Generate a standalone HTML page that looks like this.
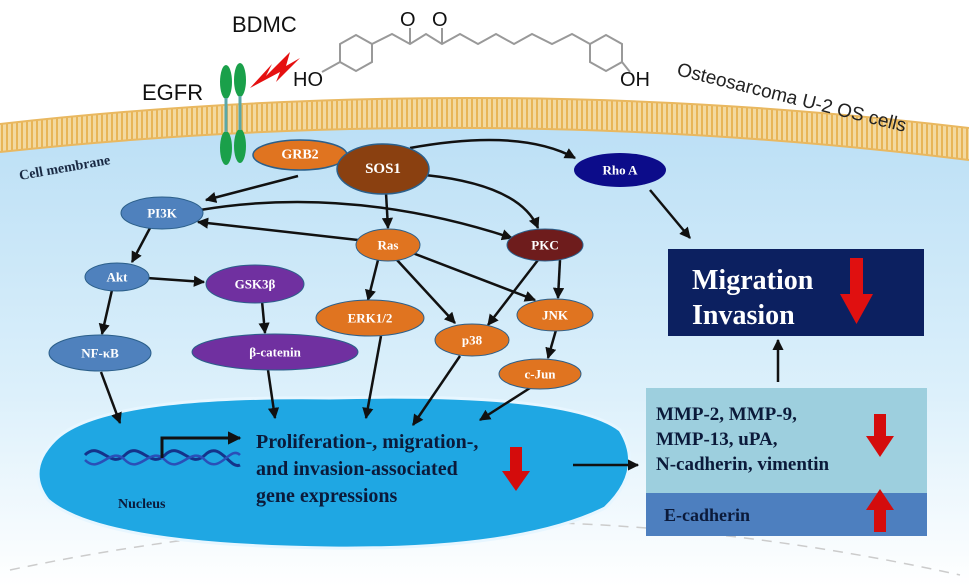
<!DOCTYPE html>
<html><head><meta charset="utf-8"><style>
html,body{margin:0;padding:0;background:#fff;}
svg{display:block;}
.n{font-family:"Liberation Serif",serif;font-weight:bold;fill:#fff;text-anchor:middle;dominant-baseline:central;}
.b{font-family:"Liberation Serif",serif;font-weight:bold;fill:#0b1a3a;}
</style></head><body>
<svg width="969" height="587" viewBox="0 0 969 587" xmlns="http://www.w3.org/2000/svg">
<defs>
<linearGradient id="cell" x1="0" y1="0" x2="0" y2="1">
<stop offset="0" stop-color="#b9def5"/><stop offset="0.6" stop-color="#dcf0fb"/><stop offset="1" stop-color="#ffffff"/>
</linearGradient>
<pattern id="mem" width="5" height="30" patternUnits="userSpaceOnUse">
<rect width="5" height="30" fill="#f3d9a0"/><rect x="1" width="2" height="30" fill="#e8b557"/>
</pattern>
<marker id="ar" viewBox="0 0 10 10" refX="9" refY="5" markerWidth="4.5" markerHeight="4.5" orient="auto"><path d="M0,0L10,5L0,10z" fill="#111"/></marker>
</defs>
<path d="M0,142 Q484,62 969,150 L969,587 L0,587 Z" fill="url(#cell)"/>
<path d="M10,570 Q484,470 960,575" fill="none" stroke="#ccc" stroke-width="1.5" stroke-dasharray="10,8"/>
<path d="M0,124 Q484,70 969,128 L969,160 Q484,100 0,152 Z" fill="url(#mem)"/>
<path d="M0,124 Q484,70 969,128" fill="none" stroke="#e9b860" stroke-width="2"/>
<path d="M0,152 Q484,100 969,160" fill="none" stroke="#e9b860" stroke-width="2"/>
<text x="232" y="32" font-family="Liberation Sans,sans-serif" font-size="22" fill="#111">BDMC</text>
<text x="142" y="100" font-family="Liberation Sans,sans-serif" font-size="22" fill="#111">EGFR</text>
<text x="676" y="75" font-family="Liberation Sans,sans-serif" font-size="19" fill="#222" transform="rotate(14 676 75)">Osteosarcoma U-2 OS cells</text>
<text x="20" y="180" font-family="Liberation Serif,serif" font-weight="bold" font-size="14" fill="#1a2a44" transform="rotate(-10 20 180)">Cell membrane</text>
<g fill="none" stroke="#999" stroke-width="2">
<path d="M340,44 L356,35 L372,44 L372,62 L356,71 L340,62 Z"/>
<path d="M372,44 L392,34 L410,44 L426,34 L442,44 L460,34 L478,44 L496,34 L514,44 L532,34 L552,44 L572,34 L590,44"/>
<path d="M410,44 L410,28 M442,44 L442,28"/>
<path d="M590,44 L606,35 L622,44 L622,62 L606,71 L590,62 Z"/>
<path d="M340,62 L322,72 M622,62 L630,72"/>
</g>
<text x="400" y="26" font-family="Liberation Sans,sans-serif" font-size="20" fill="#111">O</text>
<text x="432" y="26" font-family="Liberation Sans,sans-serif" font-size="20" fill="#111">O</text>
<text x="293" y="86" font-family="Liberation Sans,sans-serif" font-size="20" fill="#111">HO</text>
<text x="620" y="86" font-family="Liberation Sans,sans-serif" font-size="20" fill="#111">OH</text>
<path d="M250,88 L272,64 L266,76 L290,52 L286,66 L300,58 L276,82 L280,72 Z" fill="#e51010"/>
<g fill="#1aa04a"><ellipse cx="226" cy="82" rx="6" ry="17"/><ellipse cx="240" cy="80" rx="6" ry="17"/><ellipse cx="226" cy="148" rx="6" ry="17"/><ellipse cx="240" cy="146" rx="6" ry="17"/></g>
<path d="M226,98 L226,132 M240,96 L240,130" stroke="#5aa8a8" stroke-width="3"/>
<path d="M55,440 Q100,395 330,398 Q570,392 620,430 Q645,470 605,508 Q520,550 330,548 Q100,545 48,500 Q25,470 55,440 Z" fill="#1fa7e3" stroke="#e7f6ff" stroke-width="3"/>
<path d="M85,455 C100,440 110,470 125,455 C140,440 150,470 165,455 C180,440 190,470 205,455 C220,440 230,470 240,465" fill="none" stroke="#14338a" stroke-width="3"/>
<path d="M85,460 C100,475 110,445 125,460 C140,475 150,445 165,460 C180,475 190,445 205,460 C220,475 230,445 240,455" fill="none" stroke="#2a4fb8" stroke-width="2.5"/>
<path d="M162,458 L162,438 L240,438" fill="none" stroke="#111" stroke-width="3" marker-end="url(#ar)"/>
<text x="118" y="508" class="b" font-size="14">Nucleus</text>
<text class="b" font-size="20"><tspan x="256" y="448">Proliferation-, migration-,</tspan><tspan x="256" y="475">and invasion-associated</tspan><tspan x="256" y="502">gene expressions</tspan></text>
<path d="M510,447 h12 v24 h8 l-14,20 l-14,-20 h8 z" fill="#d40c0c"/>
<g stroke="#111" stroke-width="2.5" fill="none" marker-end="url(#ar)">
<path d="M298,176 L206,200"/>
<path d="M410,148 Q520,128 575,158"/>
<path d="M425,175 Q520,185 538,228"/>
<path d="M386,193 L388,228"/>
<path d="M200,210 Q350,185 512,238"/>
<path d="M358,240 L198,222"/>
<path d="M150,228 L132,262"/>
<path d="M147,278 L204,282"/>
<path d="M112,290 L102,334"/>
<path d="M262,301 L265,333"/>
<path d="M378,260 L368,300"/>
<path d="M397,260 L455,323"/>
<path d="M410,252 L535,300"/>
<path d="M538,260 L488,325"/>
<path d="M560,260 L558,298"/>
<path d="M556,330 L548,358"/>
<path d="M650,190 L690,238"/>
<path d="M101,372 L120,423"/>
<path d="M268,370 L275,418"/>
<path d="M381,336 L366,418"/>
<path d="M460,356 L413,425"/>
<path d="M530,388 L480,420"/>
<path d="M573,465 L638,465"/>
<path d="M778,382 L778,340"/>
</g>
<ellipse cx="300" cy="155" rx="47" ry="15" fill="#e07420" stroke="#2b5f8a" stroke-width="1.5"/><text x="300" y="155" class="n" font-size="14">GRB2</text>
<ellipse cx="383" cy="169" rx="46" ry="25" fill="#8a4010" stroke="#2b5f8a" stroke-width="1.5"/><text x="383" y="169" class="n" font-size="15">SOS1</text>
<ellipse cx="620" cy="170" rx="46" ry="17" fill="#0c0c8a"/><text x="620" y="170" class="n" font-size="13">Rho A</text>
<ellipse cx="162" cy="213" rx="41" ry="16" fill="#4f81bd" stroke="#2b5f8a"/><text x="162" y="213" class="n" font-size="13">PI3K</text>
<ellipse cx="388" cy="245" rx="32" ry="16" fill="#e07420" stroke="#2b5f8a"/><text x="388" y="245" class="n" font-size="13">Ras</text>
<ellipse cx="545" cy="245" rx="38" ry="16" fill="#6e1c1c" stroke="#2b5f8a"/><text x="545" y="245" class="n" font-size="13">PKC</text>
<ellipse cx="117" cy="277" rx="32" ry="14" fill="#4f81bd" stroke="#2b5f8a"/><text x="117" y="277" class="n" font-size="13">Akt</text>
<ellipse cx="255" cy="284" rx="49" ry="19" fill="#7030a0" stroke="#2b5f8a"/><text x="255" y="284" class="n" font-size="13">GSK3β</text>
<ellipse cx="370" cy="318" rx="54" ry="18" fill="#e07420" stroke="#2b5f8a"/><text x="370" y="318" class="n" font-size="13">ERK1/2</text>
<ellipse cx="555" cy="315" rx="38" ry="16" fill="#e07420" stroke="#2b5f8a"/><text x="555" y="315" class="n" font-size="13">JNK</text>
<ellipse cx="472" cy="340" rx="37" ry="16" fill="#e07420" stroke="#2b5f8a"/><text x="472" y="340" class="n" font-size="13">p38</text>
<ellipse cx="100" cy="353" rx="51" ry="18" fill="#4f81bd" stroke="#2b5f8a"/><text x="100" y="353" class="n" font-size="13">NF-κB</text>
<ellipse cx="275" cy="352" rx="83" ry="18" fill="#7030a0" stroke="#2b5f8a"/><text x="275" y="352" class="n" font-size="13">β-catenin</text>
<ellipse cx="540" cy="374" rx="41" ry="15" fill="#e07420" stroke="#2b5f8a"/><text x="540" y="374" class="n" font-size="13">c-Jun</text>
<rect x="668" y="249" width="256" height="87" fill="#0c2060"/>
<text x="692" y="289" font-family="Liberation Serif,serif" font-weight="bold" font-size="28" fill="#fff">Migration</text>
<text x="692" y="324" font-family="Liberation Serif,serif" font-weight="bold" font-size="28" fill="#fff">Invasion</text>
<path d="M850,258 h13 v36 h10 l-16.5,30 l-16.5,-30 h10 z" fill="#e01010"/>
<rect x="646" y="388" width="281" height="105" fill="#9dcfde"/>
<rect x="646" y="493" width="281" height="43" fill="#4d7fbf"/>
<text class="b" font-size="19"><tspan x="656" y="420">MMP-2, MMP-9,</tspan><tspan x="656" y="445">MMP-13, uPA,</tspan><tspan x="656" y="470">N-cadherin, vimentin</tspan></text>
<text x="664" y="521" class="b" font-size="18">E-cadherin</text>
<path d="M874,414 h12 v22 h8 l-14,21 l-14,-21 h8 z" fill="#d40c0c"/>
<path d="M874,532 h12 v-22 h8 l-14,-21 l-14,21 h8 z" fill="#d40c0c"/>
</svg>
</body></html>
